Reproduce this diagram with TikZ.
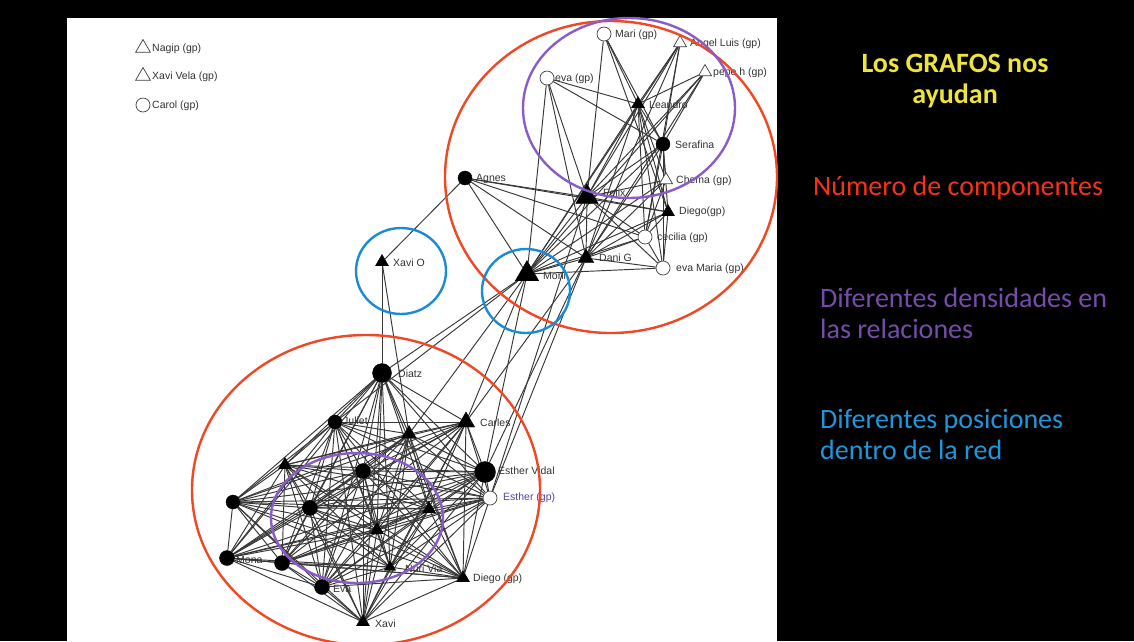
\documentclass[tikz,border=0pt]{standalone}
\usepackage{fontspec}
\setmainfont{Liberation Sans}
\newfontfamily\slidefont{Carlito}
\usetikzlibrary{shapes.geometric,backgrounds}
\definecolor{ered}{RGB}{240,72,36}
\definecolor{epurple}{RGB}{138,92,200}
\definecolor{eblue}{RGB}{26,140,214}
\definecolor{tyellow}{RGB}{238,228,60}
\definecolor{tred}{RGB}{245,50,25}
\definecolor{tpurple}{RGB}{118,76,170}
\definecolor{tblue}{RGB}{30,150,220}
\definecolor{gpblue}{RGB}{80,70,160}
\tikzset{
  bc/.style={circle,fill=black,draw=black,inner sep=0,minimum size=#1},
  bc/.default=14pt,
  wc/.style={circle,fill=white,draw=black!75,line width=0.7pt,inner sep=0,minimum size=#1},
  wc/.default=14pt,
  bt/.style={regular polygon,regular polygon sides=3,fill=black,draw=black,inner sep=0,minimum size=#1},
  bt/.default=15pt,
  wt/.style={regular polygon,regular polygon sides=3,fill=white,draw=black!75,line width=0.7pt,inner sep=0,minimum size=#1},
  wt/.default=15pt,
  lbl/.style={font=\fontsize{10.5}{12}\selectfont,text=black!80,anchor=west,inner sep=0},
  edge/.style={draw=black!78,line width=0.95pt},
  ring/.style={line width=2.4pt},
  slide/.style={font=\slidefont\fontsize{28}{32}\selectfont,inner sep=0}
}
\begin{document}
\begin{tikzpicture}[x=1pt,y=-1pt]
\begin{pgfonlayer}{background}
\fill[black] (0,0) rectangle (1134,641);
\fill[white] (67,18) rectangle (777,641);
\end{pgfonlayer}
\useasboundingbox (0,0) rectangle (1134,641);

% legend
\node[wt=17pt] (lg1) at (143,48) {};
\node[lbl] (lg1l) at (152,49) {Nagip (gp)};
\node[wt=17pt] (lg2) at (143,76) {};
\node[lbl] (lg2l) at (152,77) {Xavi Vela (gp)};
\node[wc=14pt] (lg3) at (143,105) {};
\node[lbl] (lg3l) at (152,106) {Carol (gp)};

% top cluster
\node[wc] (mari) at (604,34) {};
\node[wt] (angel) at (680,43) {};
\node[wt] (pepe) at (705,72) {};
\node[wc] (evagp) at (547,78) {};
\node[bt] (leandro) at (638,104) {};
\node[bc] (serafina) at (663,144) {};
\node[wt] (chema) at (666,180) {};
\node[bt=26pt] (felix) at (587,197) {};
\node[bc] (agnes) at (465,178) {};
\node[bt] (diegot) at (668,212) {};
\node[wc] (cecilia) at (645,237) {};
\node[bt=18pt] (danig) at (586,258) {};
\node[wc] (evamaria) at (663,268) {};
\node[bt=27pt] (moni) at (527,274) {};
\node[bt] (xavio) at (382,262) {};

% bottom cluster
\node[bc=19pt] (diatz) at (382,373) {};
\node[bc] (juliet) at (335,422) {};
\node[bt=17pt] (tq) at (409,434) {};
\node[bt=20pt] (carles) at (466,422) {};
\node[bc=21pt] (esv) at (485,472) {};
\node[wc] (esg) at (490,498) {};
\node[bt] (tn) at (285,465) {};
\node[bc=15pt] (cn) at (363,471) {};
\node[bc] (cw) at (233,502) {};
\node[bc=15pt] (cm) at (310,508) {};
\node[bt] (tr) at (429,509) {};
\node[bt] (tm) at (377,530) {};
\node[bc=15pt] (mona) at (227,558) {};
\node[bc=15pt] (cp) at (282,563) {};
\node[bt=13pt] (nuri) at (390,567) {};
\node[bc=15pt] (eva) at (322,587) {};
\node[bt] (diegob) at (463,578) {};
\node[bt] (xavi) at (363,622) {};

% labels
\node[lbl] at (615,35) {Mari (gp)};
\node[lbl] at (690,44) {Angel Luis (gp)};
\node[lbl] at (713,73) {pepe h (gp)};
\node[lbl] at (555,79) {eva (gp)};
\node[lbl] at (649,105) {Leandro};
\node[lbl] at (675,145) {Serafina};
\node[lbl] at (676,181) {Chema (gp)};
\node[lbl] at (603,193) {Felix};
\node[lbl] at (476,179) {Agnes};
\node[lbl] at (679,212) {Diego(gp)};
\node[lbl] at (657,238) {cecilia (gp)};
\node[lbl] at (599,258) {Dani G};
\node[lbl] at (676,269) {eva Maria (gp)};
\node[lbl] at (543,276) {Moni};
\node[lbl] at (393,263) {Xavi O};
\node[lbl] at (398,374) {Diatz};
\node[lbl] at (343,421) {Juliet};
\node[lbl] at (480,423) {Carles};
\node[lbl] at (498,471) {Esther Vidal};
\node[lbl,text=gpblue] at (503,498) {Esther (gp)};
\node[lbl] at (236,560) {Mona};
\node[lbl] at (405,569) {Nuri Via};
\node[lbl] at (473,579) {Diego (gp)};
\node[lbl] at (333,589) {Eva};
\node[lbl] at (375,624) {Xavi};

\begin{pgfonlayer}{background}
% top cluster edges
\foreach \a/\b in {mari/felix,mari/leandro,mari/serafina,mari/diegot,
  evagp/leandro,evagp/serafina,evagp/felix,evagp/moni,evagp/danig,
  angel/leandro,angel/felix,angel/moni,angel/danig,angel/serafina,angel/cecilia,
  pepe/leandro,pepe/felix,pepe/moni,pepe/danig,pepe/serafina,
  leandro/felix,leandro/moni,leandro/danig,leandro/serafina,leandro/chema,leandro/diegot,leandro/cecilia,leandro/evamaria,
  serafina/felix,serafina/moni,serafina/danig,serafina/chema,serafina/diegot,serafina/cecilia,serafina/evamaria,
  chema/felix,chema/moni,chema/danig,chema/cecilia,
  agnes/felix,agnes/moni,agnes/danig,agnes/diegot,agnes/cecilia,agnes/xavio,
  felix/moni,felix/danig,felix/diegot,felix/cecilia,felix/evamaria,
  danig/moni,danig/evamaria,danig/diegot,danig/cecilia,
  moni/evamaria,moni/diegot,moni/cecilia,
  diegot/evamaria,diegot/cecilia,cecilia/evamaria,
  xavio/diatz,xavio/tq,
  moni/diatz,moni/juliet,moni/tq,moni/carles,moni/esv,
  danig/carles,danig/esv,felix/esg,danig/esg}
  {\draw[edge] (\a) -- (\b);}
% bottom cluster: dense
\foreach \a [count=\i] in {diatz,juliet,tq,carles,esv,esg,tn,cn,cw,cm,tr,tm,mona,cp,nuri,eva,diegob,xavi}{
  \foreach \b [count=\j] in {diatz,juliet,tq,carles,esv,esg,tn,cn,cw,cm,tr,tm,mona,cp,nuri,eva,diegob,xavi}{
    \ifnum\j>\i \draw[edge] (\a) -- (\b);\fi
  }
}
\end{pgfonlayer}

% rings
\draw[ring,ered] (611,177) ellipse [x radius=166, y radius=156];
\draw[ring,epurple] (629,108) ellipse [x radius=106, y radius=90];
\draw[ring,eblue] (401,271) ellipse [x radius=45, y radius=43];
\draw[ring,eblue] (526,291) ellipse [x radius=44, y radius=42];
\draw[ring,ered] (366,490) ellipse [x radius=174, y radius=155];
\draw[ring,epurple] (357,518) ellipse [x radius=86, y radius=65];

% slide text
\node[slide,text=tyellow,anchor=base,font=\slidefont\bfseries\fontsize{28}{32}\selectfont] (t1) at (955,72) {Los GRAFOS nos};
\node[slide,text=tyellow,anchor=base,font=\slidefont\bfseries\fontsize{28}{32}\selectfont] (t2) at (955,103) {ayudan};
\node[slide,text=tred,anchor=base west] (t3) at (813,195) {Número de componentes};
\node[slide,text=tpurple,anchor=base west] (t4) at (820,307) {Diferentes densidades en};
\node[slide,text=tpurple,anchor=base west] (t5) at (820,338) {las relaciones};
\node[slide,text=tblue,anchor=base west] (t6) at (820,428) {Diferentes posiciones};
\node[slide,text=tblue,anchor=base west] (t7) at (820,459) {dentro de la red};
\end{tikzpicture}
\end{document}
